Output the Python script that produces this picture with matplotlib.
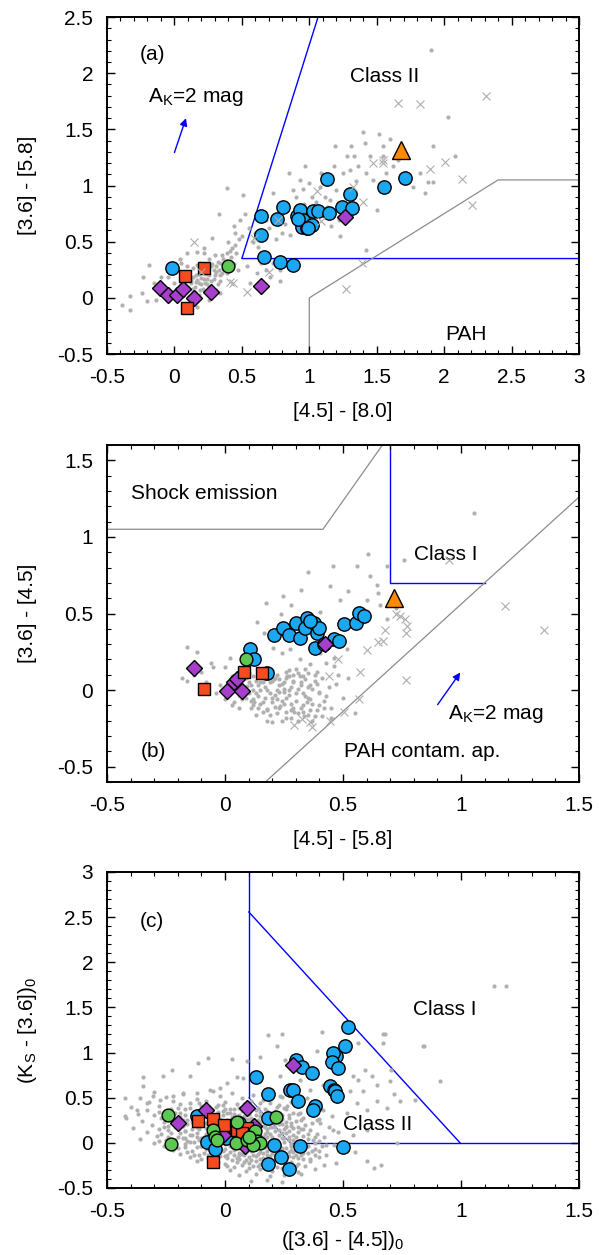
import matplotlib
matplotlib.use("Agg")
import matplotlib.pyplot as plt
from matplotlib.ticker import MultipleLocator, FuncFormatter

plt.rcParams['font.family'] = ['Liberation Sans', 'DejaVu Sans']
plt.rcParams['mathtext.fontset'] = 'custom'
plt.rcParams['mathtext.rm'] = 'Liberation Sans'
plt.rcParams['mathtext.it'] = 'Liberation Sans:italic'
plt.rcParams['axes.unicode_minus'] = False

# ---------------- Panel (a) data: [4.5]-[8.0] vs [3.6]-[5.8] ----------------
a_blue_x = [-0.02, 0.644, 0.644, 0.763, 0.805, 0.662, 0.785, 0.877, 0.906, 0.931, 0.956, 0.944, 0.981,
            1.018, 1.03, 1.067, 1.129, 1.148, 1.24, 1.302, 1.314, 1.551, 1.712, 0.92, 0.99]
a_blue_y = [0.264, 0.73, 0.561, 0.703, 0.813, 0.368, 0.323, 0.294, 0.733, 0.784, 0.695, 0.635, 0.62,
            0.65, 0.777, 0.769, 1.06, 0.754, 0.813, 0.926, 0.799, 0.986, 1.066, 0.70, 0.62]
a_purple_x = [1.265, 0.642, -0.107, -0.045, 0.022, 0.066, 0.148, 0.271]
a_purple_y = [0.718, 0.11, 0.086, 0.027, 0.027, 0.077, -0.003, 0.05]
a_red_x = [0.079, 0.222, 0.091]
a_red_y = [0.196, 0.264, -0.086]
a_green_x = [0.397]
a_green_y = [0.285]
a_orange_x = [1.68]
a_orange_y = [1.32]
a_cross = [(0.148, 0.501), (0.2, 0.234), (0.41, 0.145), (0.437, 0.131), (0.54, 0.056), (0.59, 0.53),
           (0.70, 0.234), (0.77, 0.694), (1.055, 0.955), (1.09, 0.68), (1.326, 0.991), (1.40, 0.858),
           (1.39, 0.309), (1.272, 0.077), (1.474, 1.2), (1.55, 1.2), (1.55, 1.23), (1.655, 1.733),
           (1.82, 1.727), (1.895, 1.146), (2.01, 1.214), (2.13, 1.06), (2.21, 0.828), (2.31, 1.793)]
a_dots = [(-0.39, -0.06), (-0.33, -0.11), (-0.33, 0.02), (-0.24, 0.04), (-0.23, 0.19), (-0.19, 0.29),
          (-0.15, 0.13), (-0.14, -0.02), (-0.2, -0.03), (-0.1, 0.19), (-0.05, 0.19), (0.04, 0.35),
          (0.05, 0.31), (0.09, 0.28), (0.12, 0.13), (0.14, 0.19), (0.17, 0.16), (0.19, 0.31), (0.22, 0.4),
          (0.24, 0.17), (0.26, 0.2), (0.29, 0.25), (0.31, 0.28), (0.34, 0.31), (0.36, 0.35), (0.39, 0.4),
          (0.43, 0.44), (0.46, 0.4), (0.48, 0.52), (0.45, 0.58), (0.44, 0.64), (0.49, 0.69), (0.52, 0.75),
          (0.51, 0.92), (0.39, 0.98), (0.33, 0.75), (0.28, 0.53), (0.22, 0.44), (0.17, 0.41), (0.09, 0.4),
          (0.07, 0.07), (0.13, 0.04), (0.19, 0.07), (0.23, 0.13), (0.02, -0.02), (-0.05, -0.03), (0.0, 0.13),
          (0.17, -0.08), (0.26, -0.02), (0.31, 0.07), (0.34, 0.04), (0.39, 0.22), (0.43, 0.28), (0.34, 0.15),
          (0.54, 0.28), (0.56, 0.13), (0.61, 0.22), (0.71, 0.19), (0.78, 0.15), (0.78, 0.25), (0.73, 0.31),
          (0.68, 0.25), (0.64, 0.31), (0.6, 0.58), (0.68, 0.69), (0.73, 0.93), (0.8, 0.58), (0.85, 1.11),
          (0.88, 0.96), (0.93, 1.05), (0.96, 0.84), (0.97, 1.17), (1.0, 1.02), (1.02, 0.9), (1.08, 0.99),
          (1.09, 1.11), (1.12, 0.9), (1.13, 0.81), (1.15, 0.87), (1.18, 1.17), (1.19, 1.35), (1.2, 0.96),
          (1.22, 0.69), (1.23, 0.55), (1.25, 1.11), (1.28, 1.26), (1.3, 1.14), (1.31, 1.35), (1.33, 1.26),
          (1.35, 1.04), (1.36, 1.17), (1.4, 1.48), (1.41, 1.38), (1.42, 1.11), (1.42, 0.43), (1.45, 1.26),
          (1.47, 1.05), (1.5, 0.78), (1.52, 1.46), (1.55, 1.26), (1.57, 1.11), (1.6, 1.41), (1.62, 1.17),
          (1.66, 1.23), (1.72, 1.11), (1.77, 0.99), (1.82, 1.11), (1.86, 0.93), (1.88, 1.03), (1.92, 1.03),
          (2.03, 1.61), (1.9, 2.21), (2.08, 1.26), (1.92, 1.35), (1.55, 1.35),
          (0.1, 0.1), (0.12, 0.16), (0.15, 0.1), (0.16, 0.2), (0.18, 0.13), (0.2, 0.18), (0.21, 0.08),
          (0.22, 0.22), (0.24, 0.12), (0.25, 0.25), (0.27, 0.15), (0.28, 0.3), (0.3, 0.2), (0.32, 0.12),
          (0.33, 0.25), (0.35, 0.22), (0.37, 0.28), (0.14, 0.27), (0.11, 0.22), (0.08, 0.15), (0.05, 0.12),
          (0.03, 0.08), (0.19, 0.24), (0.23, 0.3), (0.26, 0.35), (0.3, 0.38), (0.4, 0.5), (0.42, 0.36),
          (0.44, 0.3), (0.47, 0.25),
          (0.06, 0.18), (0.09, 0.22), (0.13, 0.08), (0.16, 0.14), (0.18, 0.21), (0.2, 0.12), (0.22, 0.17),
          (0.24, 0.21), (0.26, 0.1), (0.27, 0.28), (0.29, 0.17), (0.31, 0.23), (0.32, 0.32), (0.34, 0.2),
          (0.36, 0.26), (0.38, 0.33), (0.15, 0.05), (0.18, 0.03), (0.11, 0.02), (0.28, 0.06), (0.25, 0.04),
          (0.21, 0.26), (0.17, 0.29), (0.35, 0.38), (0.41, 0.42), (0.45, 0.47), (0.5, 0.55), (0.55, 0.62),
          (0.58, 0.5), (0.62, 0.45), (0.66, 0.52), (0.7, 0.62), (0.75, 0.52), (0.82, 0.66), (0.86, 0.56),
          (0.9, 0.9), (0.95, 0.97), (1.05, 0.85), (1.1, 1.02), (1.16, 0.64)]

# ---------------- Panel (b) data: [4.5]-[5.8] vs [3.6]-[4.5] ----------------
b_blue_x = [0.209, 0.247, 0.273, 0.299, 0.317, 0.348, 0.340, 0.376, 0.390, 0.397, 0.383, 0.460, 0.482,
            0.503, 0.556, 0.566, 0.588, 0.107, 0.121, 0.178, 0.36, 0.42]
b_blue_y = [0.357, 0.407, 0.357, 0.439, 0.342, 0.472, 0.407, 0.439, 0.374, 0.407, 0.277, 0.331, 0.320,
            0.429, 0.439, 0.504, 0.483, 0.266, 0.206, 0.110, 0.45, 0.30]
b_purple_x = [0.425, -0.13, 0.008, 0.037, 0.072, 0.05]
b_purple_y = [0.303, 0.147, -0.004, 0.05, -0.004, 0.07]
b_red_x = [-0.09, 0.082, 0.157]
b_red_y = [0.01, 0.115, 0.110]
b_green_x = [0.089]
b_green_y = [0.206]
b_orange_x = [0.717]
b_orange_y = [0.60]
b_cross = [(0.948, 0.85), (0.726, 0.494), (0.74, 0.483), (0.764, 0.461), (0.771, 0.418), (0.768, 0.37),
           (0.68, 0.39), (0.65, 0.314), (0.67, 0.32), (0.60, 0.26), (0.48, 0.206), (0.44, 0.093),
           (0.57, 0.121), (0.768, 0.067), (0.566, -0.058), (0.506, -0.145), (1.185, 0.548), (1.35, 0.392),
           (0.291, -0.227), (0.326, -0.188), (0.362, -0.21), (0.37, -0.242), (0.446, -0.2)]
b_dots = [(-0.16, 0.28), (0.02, 0.21), (0.136, 0.444), (0.174, 0.569), (0.247, 0.613), (0.35, 0.77),
          (0.456, 0.807), (0.56, 0.807), (0.605, 0.887), (0.686, 0.807), (0.76, 0.85), (1.054, 1.154),
          (0.613, 0.742), (0.643, 0.688), (0.65, 0.634), (0.52, 0.645), (0.486, 0.591), (0.446, 0.677),
          (0.404, 0.509), (0.322, 0.656), (0.281, 0.558), (0.239, 0.494), (0.164, 0.374), (0.202, 0.277),
          (0.242, 0.245), (0.277, 0.266), (0.319, 0.201), (0.362, 0.169), (0.404, 0.245), (0.46, 0.212),
          (0.517, 0.266), (0.588, 0.526), (0.602, 0.591), (0.658, 0.558), (0.686, 0.461), (0.726, 0.537),
          (0.319, 0.093), (0.397, -0.015), (0.347, -0.08), (0.39, 0.115), (0.263, 0.093), (0.206, 0.071),
          (0.15, 0.05), (0.093, 0.028), (0.065, -0.037), (0.121, -0.08), (0.178, -0.123), (0.234, -0.102),
          (0.291, -0.145), (0.333, -0.167), (-0.182, 0.082), (-0.13, 0.1), (-0.05, 0.15),
          (0.02, -0.02), (0.05, 0.05), (0.07, -0.06), (0.09, 0.08), (0.1, -0.02), (0.11, 0.03), (0.12, -0.1),
          (0.13, 0.06), (0.14, -0.04), (0.15, 0.1), (0.16, -0.08), (0.17, 0.02), (0.18, -0.13), (0.19, 0.05),
          (0.2, -0.05), (0.21, 0.08), (0.22, -0.15), (0.23, -0.01), (0.24, 0.04), (0.25, -0.09), (0.26, 0.12),
          (0.27, -0.03), (0.28, -0.18), (0.29, 0.06), (0.3, -0.07), (0.31, 0.01), (0.32, -0.12), (0.33, 0.09),
          (0.34, -0.04), (0.35, -0.16), (0.36, 0.03), (0.37, -0.09), (0.38, 0.06), (0.39, -0.13), (0.4, -0.02),
          (0.06, -0.12), (0.08, 0.12), (0.03, 0.09), (0.0, -0.06), (-0.02, 0.03), (0.13, -0.16), (0.17, 0.14),
          (0.21, -0.11), (0.25, 0.01), (0.29, -0.12), (0.33, -0.02), (0.19, -0.02), (0.15, 0.0), (0.11, -0.07),
          (0.23, 0.07), (0.27, 0.09), (0.31, -0.15), (0.35, 0.11), (0.2, 0.13), (0.24, -0.2), (0.18, -0.2),
          (0.14, -0.12), (0.1, 0.11), (0.26, -0.14), (0.3, 0.14), (0.42, -0.07), (0.44, 0.02), (0.41, -0.17),
          (0.37, -0.2), (0.34, 0.14), (0.12, 0.0), (0.16, 0.05), (0.22, 0.0), (0.28, 0.02), (0.32, 0.05),
          (0.05, -0.01), (0.08, -0.04), (0.2, -0.08), (0.26, -0.05), (0.36, -0.06),
          (0.45, -0.12), (0.48, 0.1), (0.5, -0.05), (0.46, 0.16), (0.52, 0.08), (0.55, -0.15), (0.43, 0.18),
          (-0.16, 0.06), (-0.1, 0.12), (-0.06, 0.18), (-0.04, -0.02), (-0.08, 0.05), (0.0, 0.15),
          (-0.12, 0.25), (0.03, -0.1),
          (0.03, 0.0), (0.04, -0.08), (0.06, 0.07), (0.07, 0.02), (0.09, -0.05), (0.1, 0.05), (0.11, -0.12),
          (0.12, 0.09), (0.13, -0.02), (0.14, 0.03), (0.15, -0.09), (0.16, 0.12), (0.17, -0.05), (0.18, 0.0),
          (0.19, -0.16), (0.2, 0.06), (0.21, -0.03), (0.22, 0.1), (0.23, -0.12), (0.24, -0.07), (0.25, 0.05),
          (0.26, -0.18), (0.27, 0.0), (0.28, -0.09), (0.29, 0.1), (0.3, -0.02), (0.31, -0.2), (0.32, 0.03),
          (0.33, -0.1), (0.34, 0.07), (0.35, -0.05), (0.36, -0.13), (0.37, 0.01), (0.38, -0.17), (0.39, 0.04),
          (0.4, -0.1), (0.41, 0.08), (0.43, -0.04), (0.45, -0.18), (0.47, 0.04), (0.16, -0.14), (0.2, -0.21),
          (0.27, 0.13), (0.23, 0.03), (0.19, 0.09), (0.14, 0.14), (0.09, 0.0), (0.12, -0.06), (0.06, -0.03),
          (0.25, -0.01), (0.29, 0.05), (0.33, -0.14), (0.38, 0.1), (0.22, -0.06), (0.17, 0.07), (0.28, -0.13),
          (0.31, 0.11), (0.35, 0.02), (0.42, -0.12), (0.26, 0.08)]

# ---------------- Panel (c) data: ([3.6]-[4.5])0 vs (Ks-[3.6])0 ----------------
c_blue_x = [0.52, 0.509, 0.47, 0.459, 0.452, 0.48, 0.301, 0.325, 0.367, 0.133, 0.184, 0.275, 0.29, 0.309,
            0.382, 0.372, 0.445, 0.46, 0.466, 0.476, -0.12, -0.078, -0.042, 0.035, 0.004, 0.208, 0.239,
            0.184, 0.272, 0.318, 0.184, 0.501, 0.06, 0.1]
c_blue_y = [1.285, 1.07, 0.96, 0.996, 0.90, 0.83, 0.922, 0.841, 0.774, 0.733, 0.541, 0.589, 0.589, 0.459,
            0.404, 0.367, 0.63, 0.59, 0.57, 0.522, 0.293, 0.004, -0.07, 0.2, 0.052, -0.026, -0.152,
            -0.233, -0.289, -0.04, 0.274, -0.048, 0.22, 0.05]
c_purple_x = [0.29, 0.092, -0.08, -0.2, 0.123, -0.007, 0.085]
c_purple_y = [0.867, 0.385, 0.367, 0.219, 0.181, 0.089, -0.04]
c_red_x = [-0.113, -0.052, -0.004, 0.049, 0.092, 0.071, -0.052]
c_red_y = [0.237, 0.263, 0.2, 0.144, 0.163, 0.107, -0.207]
c_green_x = [-0.24, -0.229, 0.052, 0.216, -0.052, -0.042, -0.035, 0.047, 0.092, 0.113, 0.127, 0.134,
             0.148, 0.12, 0.1]
c_green_y = [0.304, -0.015, 0.23, 0.285, 0.144, 0.07, 0.033, -0.004, 0.033, 0.07, 0.126, 0.015,
             -0.004, -0.022, 0.06]
c_dots = [(-0.30, 0.56), (-0.18, 0.54), (-0.05, 0.57), (0.03, 0.55), (0.12, 0.53), (0.20, 0.56),
          (-0.36, 0.50), (-0.25, 0.51), (-0.12, 0.49), (-0.02, 0.52), (0.07, 0.50), (0.16, 0.48), (0.24, 0.51),
          (-0.32, 0.45), (-0.22, 0.46), (-0.15, 0.44), (-0.08, 0.46), (0.00, 0.45), (0.05, 0.43), (0.11, 0.46),
          (0.19, 0.44), (0.28, 0.45), (-0.40, 0.40), (-0.28, 0.41), (-0.20, 0.39), (-0.10, 0.41), (-0.04, 0.40),
          (0.02, 0.38), (0.08, 0.41), (0.14, 0.39), (0.22, 0.40), (0.30, 0.42), (-0.33, 0.36), (-0.24, 0.35),
          (-0.17, 0.37), (-0.12, 0.34), (-0.06, 0.36), (-0.01, 0.35), (0.04, 0.37), (0.09, 0.34), (0.13, 0.36),
          (0.18, 0.35), (0.26, 0.37), (0.35, 0.34), (-0.37, 0.32), (-0.30, 0.31), (-0.21, 0.33), (-0.14, 0.31),
          (-0.09, 0.32), (-0.03, 0.30), (0.01, 0.33), (0.06, 0.31), (0.10, 0.32), (0.15, 0.30), (0.20, 0.33),
          (0.24, 0.31), (0.31, 0.32), (-0.42, 0.28), (-0.27, 0.27), (-0.19, 0.29), (-0.13, 0.27), (-0.07, 0.28),
          (-0.02, 0.26), (0.03, 0.29), (0.07, 0.27), (0.11, 0.28), (0.16, 0.26), (0.21, 0.29), (0.27, 0.27),
          (0.33, 0.28), (0.40, 0.26), (-0.35, 0.24), (-0.26, 0.23), (-0.18, 0.25), (-0.11, 0.23), (-0.05, 0.24),
          (0.00, 0.22), (0.04, 0.25), (0.08, 0.23), (0.12, 0.24), (0.17, 0.22), (0.22, 0.25), (0.26, 0.23),
          (0.30, 0.24), (0.37, 0.22), (-0.31, 0.20), (-0.24, 0.19), (-0.16, 0.21), (-0.10, 0.19), (-0.04, 0.20),
          (0.02, 0.18), (0.06, 0.21), (0.10, 0.19), (0.14, 0.20), (0.19, 0.18), (0.23, 0.21), (0.28, 0.19),
          (0.34, 0.20), (0.44, 0.18), (-0.39, 0.16), (-0.28, 0.15), (-0.21, 0.17), (-0.14, 0.15), (-0.08, 0.16),
          (-0.02, 0.14), (0.03, 0.17), (0.07, 0.15), (0.11, 0.16), (0.15, 0.14), (0.20, 0.17), (0.25, 0.15),
          (0.29, 0.16), (0.36, 0.14), (-0.33, 0.12), (-0.23, 0.11), (-0.17, 0.13), (-0.12, 0.11), (-0.06, 0.12),
          (-0.01, 0.10), (0.04, 0.13), (0.08, 0.11), (0.13, 0.12), (0.17, 0.10), (0.21, 0.13), (0.26, 0.11),
          (0.31, 0.12), (0.39, 0.10), (0.48, 0.12), (-0.29, 0.08), (-0.20, 0.07), (-0.15, 0.09), (-0.09, 0.07),
          (-0.03, 0.08), (0.01, 0.06), (0.05, 0.09), (0.09, 0.07), (0.14, 0.08), (0.18, 0.06), (0.23, 0.09),
          (0.27, 0.07), (0.33, 0.08), (0.42, 0.06), (-0.36, 0.04), (-0.25, 0.03), (-0.18, 0.05), (-0.11, 0.03),
          (-0.05, 0.04), (0.00, 0.02), (0.06, 0.05), (0.10, 0.03), (0.15, 0.04), (0.19, 0.02), (0.24, 0.05),
          (0.29, 0.03), (0.35, 0.04), (-0.30, 0.00), (-0.21, -0.01), (-0.13, 0.01), (-0.07, -0.01),
          (-0.02, 0.00), (0.03, -0.02), (0.08, 0.01), (0.12, -0.01), (0.16, 0.00), (0.21, -0.02), (0.25, 0.01),
          (0.31, -0.01), (0.38, 0.00), (0.46, -0.02), (-0.26, -0.04), (-0.17, -0.05), (-0.10, -0.03),
          (-0.04, -0.05), (0.02, -0.04), (0.06, -0.06), (0.11, -0.03), (0.15, -0.05), (0.20, -0.04),
          (0.24, -0.06), (0.28, -0.03), (0.34, -0.05), (0.41, -0.04), (-0.22, -0.08), (-0.14, -0.09),
          (-0.08, -0.07), (-0.01, -0.09), (0.04, -0.08), (0.09, -0.10), (0.13, -0.07), (0.18, -0.09),
          (0.22, -0.08), (0.27, -0.10), (0.32, -0.07), (0.37, -0.09), (0.50, -0.08), (-0.19, -0.12),
          (-0.11, -0.13), (-0.05, -0.11), (0.01, -0.13), (0.07, -0.12), (0.12, -0.14), (0.16, -0.11),
          (0.21, -0.13), (0.25, -0.12), (0.30, -0.14), (0.35, -0.11), (0.43, -0.13), (-0.15, -0.16),
          (-0.07, -0.17), (0.00, -0.15), (0.05, -0.17), (0.10, -0.16), (0.15, -0.18), (0.19, -0.15),
          (0.24, -0.17), (0.29, -0.16), (0.33, -0.18), (0.40, -0.16), (-0.12, -0.20), (-0.03, -0.21),
          (0.03, -0.19), (0.08, -0.21), (0.13, -0.20), (0.18, -0.22), (0.23, -0.19), (0.28, -0.21),
          (0.36, -0.20), (0.47, -0.22), (0.60, -0.20), (-0.06, -0.25), (0.01, -0.26), (0.07, -0.24),
          (0.12, -0.26), (0.17, -0.25), (0.22, -0.27), (0.27, -0.24), (0.34, -0.26), (0.42, -0.25),
          (0.02, -0.30), (0.09, -0.31), (0.15, -0.29), (0.20, -0.31), (0.26, -0.30), (0.31, -0.32),
          (0.38, -0.29), (0.63, -0.28), (0.06, -0.36), (0.13, -0.35), (0.19, -0.37), (0.25, -0.36),
          (0.32, -0.35), (0.11, -0.42), (0.18, -0.41), (0.24, -0.43),
          (-0.08, 0.22), (-0.03, 0.18), (0.02, 0.10), (0.05, 0.02), (0.09, 0.15), (0.13, 0.05), (0.16, 0.19),
          (0.18, 0.12), (0.12, -0.05), (0.07, -0.02), (-0.05, 0.14), (-0.10, 0.05), (0.00, -0.07),
          (0.19, -0.06), (0.22, 0.03), (0.10, 0.26), (0.04, 0.32), (-0.12, 0.18), (0.14, -0.12), (0.26, 0.17),
          (-0.16, 0.02), (0.21, 0.22), (0.06, -0.14), (-0.07, 0.31), (0.28, -0.08), (0.17, 0.30), (0.09, -0.19),
          (-0.01, 0.42), (0.32, 0.15), (0.11, 0.09),
          (-0.424, 0.496), (-0.424, 0.293), (-0.346, 0.73), (-0.346, 0.626), (-0.304, 0.515), (-0.261, 0.737),
          (-0.226, 0.811), (-0.148, 0.737), (-0.113, 0.885), (-0.071, 0.941), (0.028, 0.93), (0.092, 0.904),
          (0.148, 0.952), (0.184, 1.189), (0.24, 1.207), (0.41, 1.23), (0.388, 1.015), (0.219, 1.07),
          (0.254, 0.922), (0.078, 0.719), (0.049, 0.73), (0.007, 0.663), (-0.021, 0.607), (-0.064, 0.589),
          (-0.12, 0.552), (-0.177, 0.552), (-0.219, 0.515), (-0.275, 0.478), (-0.332, 0.441), (-0.374, 0.367),
          (0.233, 0.737), (0.318, 0.7), (0.36, 0.589), (0.417, 0.644), (0.233, 0.515), (0.261, 0.404),
          (0.346, 0.496), (0.403, 0.441), (0.318, 0.33), (0.388, 0.256),
          (0.678, 1.2), (0.671, 1.107), (0.565, 1.107), (0.843, 1.07), (0.702, 0.811), (0.593, 0.811),
          (0.544, 0.737), (0.565, 0.7), (0.621, 0.737), (0.643, 0.644), (0.583, 0.57), (0.53, 0.57),
          (0.699, 0.681), (0.717, 0.544), (0.805, 0.478), (0.742, 0.459), (0.911, 0.681), (0.646, 0.459),
          (0.685, 0.385), (0.6, 0.367), (0.558, 0.441), (0.516, 0.33), (0.452, 0.293), (0.417, 0.367),
          (0.403, 0.219), (0.459, 0.144), (0.544, 0.089), (0.6, 0.144), (0.727, -0.004), (0.374, 0.033),
          (1.141, 1.737), (1.189, 1.737), (0.84, 1.07), (0.668, 1.2), (0.66, -0.24), (0.55, -0.1)]
c_dots_core = [(-0.19, 0.43), (-0.11, 0.44), (-0.03, 0.42), (0.08, 0.43), (0.15, 0.44), (0.23, 0.42),
               (-0.23, 0.38), (-0.15, 0.39), (-0.07, 0.37), (0.0, 0.38), (0.06, 0.39), (0.11, 0.37), (0.17, 0.38),
               (0.25, 0.39), (-0.28, 0.34), (-0.19, 0.33), (-0.09, 0.35), (-0.03, 0.34), (0.02, 0.33), (0.07, 0.35),
               (0.15, 0.34), (0.21, 0.35), (0.29, 0.33), (-0.25, 0.30), (-0.17, 0.31), (-0.11, 0.29), (-0.05, 0.30),
               (-0.01, 0.31), (0.04, 0.29), (0.08, 0.30), (0.13, 0.31), (0.18, 0.29), (0.22, 0.30), (0.27, 0.31),
               (-0.22, 0.26), (-0.16, 0.25), (-0.10, 0.27), (-0.04, 0.26), (0.01, 0.25), (0.05, 0.27), (0.09, 0.26),
               (0.14, 0.25), (0.19, 0.27), (0.24, 0.26), (0.32, 0.25), (-0.20, 0.22), (-0.14, 0.23), (-0.07, 0.21),
               (-0.02, 0.22), (0.02, 0.23), (0.06, 0.22), (0.10, 0.21), (0.15, 0.23), (0.19, 0.22), (0.24, 0.21),
               (0.28, 0.22), (-0.26, 0.18), (-0.18, 0.19), (-0.12, 0.17), (-0.06, 0.18), (0.0, 0.19), (0.04, 0.17),
               (0.08, 0.18), (0.12, 0.19), (0.17, 0.17), (0.21, 0.18), (0.26, 0.19), (0.31, 0.17), (-0.24, 0.14),
               (-0.17, 0.13), (-0.11, 0.15), (-0.04, 0.14), (0.01, 0.13), (0.05, 0.15), (0.09, 0.14), (0.13, 0.13),
               (0.18, 0.15), (0.23, 0.14), (0.27, 0.13), (0.33, 0.15), (-0.27, 0.10), (-0.19, 0.11), (-0.14, 0.09),
               (-0.08, 0.10), (-0.03, 0.11), (0.02, 0.09), (0.06, 0.10), (0.11, 0.11), (0.15, 0.09), (0.19, 0.10),
               (0.24, 0.11), (0.29, 0.09), (0.35, 0.10), (-0.24, 0.06), (-0.17, 0.05), (-0.12, 0.07), (-0.06, 0.06),
               (-0.01, 0.05), (0.03, 0.07), (0.07, 0.06), (0.12, 0.05), (0.16, 0.07), (0.2, 0.06), (0.25, 0.05),
               (0.3, 0.07), (0.38, 0.06), (-0.28, 0.02), (-0.21, 0.03), (-0.15, 0.01), (-0.08, 0.02), (-0.03, 0.03),
               (0.02, 0.01), (0.08, 0.02), (0.13, 0.03), (0.17, 0.01), (0.22, 0.02), (0.27, 0.03), (0.32, 0.01),
               (0.4, 0.02), (-0.25, -0.02), (-0.17, -0.01), (-0.1, -0.03), (-0.05, -0.02), (0.0, -0.01),
               (0.05, -0.03), (0.1, -0.02), (0.14, -0.01), (0.18, -0.03), (0.23, -0.02), (0.28, -0.01),
               (0.35, -0.03), (0.43, -0.02), (-0.2, -0.06), (-0.12, -0.05), (-0.06, -0.07), (-0.02, -0.06),
               (0.03, -0.05), (0.08, -0.07), (0.12, -0.06), (0.17, -0.05), (0.22, -0.07), (0.26, -0.06),
               (0.3, -0.05), (0.38, -0.07), (-0.16, -0.10), (-0.09, -0.11), (-0.03, -0.09), (0.02, -0.10),
               (0.06, -0.11), (0.11, -0.09), (0.15, -0.10), (0.2, -0.11), (0.24, -0.09), (0.29, -0.10),
               (0.33, -0.11), (0.4, -0.09), (-0.13, -0.14), (-0.07, -0.13), (-0.02, -0.15), (0.04, -0.14),
               (0.08, -0.13), (0.13, -0.15), (0.18, -0.14), (0.22, -0.13), (0.27, -0.15), (0.32, -0.14),
               (0.38, -0.13), (-0.1, -0.18), (-0.04, -0.19), (0.01, -0.17), (0.06, -0.18), (0.11, -0.19),
               (0.16, -0.17), (0.21, -0.18), (0.26, -0.19), (0.31, -0.17), (0.36, -0.18), (-0.06, -0.22),
               (0.0, -0.23), (0.05, -0.21), (0.1, -0.22), (0.15, -0.23), (0.2, -0.21), (0.25, -0.22),
               (0.31, -0.23), (0.04, -0.27), (0.1, -0.28), (0.14, -0.26), (0.19, -0.27), (0.24, -0.28),
               (0.3, -0.26)]

# ---------------- styles ----------------
C_BLUE = '#1ba8f2'
C_PURPLE = '#a53fcc'
C_RED = '#f44b20'
C_GREEN = '#5cc851'
C_ORANGE = '#ff8a00'
C_DOT = '#b0b0b0'
C_CROSS = '#adadad'
C_LINE = 'blue'
C_GLINE = '#8c8c8c'
FS = 15

fig = plt.figure(figsize=(5.99, 12.55), dpi=100)
ax_a = fig.add_axes([0.1786, 0.7179, 0.788, 0.2685])
ax_b = fig.add_axes([0.1786, 0.3769, 0.788, 0.2685])
ax_c = fig.add_axes([0.1786, 0.0534, 0.788, 0.2518])

fmt = FuncFormatter(lambda v, p: '%g' % (round(v, 3) + 0.0))


def style(ax, xlim, ylim, xlabel, ylabel, xlab_off):
    ax.set_xlim(*xlim)
    ax.set_ylim(*ylim)
    ax.xaxis.set_major_locator(MultipleLocator(0.5))
    ax.yaxis.set_major_locator(MultipleLocator(0.5))
    ax.xaxis.set_minor_locator(MultipleLocator(0.1))
    ax.yaxis.set_minor_locator(MultipleLocator(0.1))
    ax.xaxis.set_major_formatter(fmt)
    ax.yaxis.set_major_formatter(fmt)
    ax.tick_params(which='both', direction='in', top=True, right=True, labelsize=FS, pad=10)
    ax.tick_params(which='major', length=6, width=1.0)
    ax.tick_params(which='minor', length=3, width=0.8)
    for s in ax.spines.values():
        s.set_linewidth(1.4)
    ax.set_xlabel(xlabel, fontsize=FS)
    ax.set_ylabel(ylabel, fontsize=FS)
    ax.xaxis.label.set_va('center')
    ax.yaxis.label.set_va('center')
    ax.xaxis.set_label_coords(0.5, xlab_off)
    ax.yaxis.set_label_coords(-0.169, 0.5)


def markers(ax, bx, by, px, py, rx, ry, gx, gy, ox=None, oy=None, cross=None, dots=None):
    if dots:
        ax.plot([p[0] for p in dots], [p[1] for p in dots], 'o', ms=3.0, color=C_DOT, mec='none', zorder=2)
    ax.plot(bx, by, 'o', ms=9.6, mfc=C_BLUE, mec='black', mew=1.0, zorder=3)
    ax.plot(px, py, 'D', ms=8.2, mfc=C_PURPLE, mec='black', mew=1.0, zorder=4)
    ax.plot(rx, ry, 's', ms=9.0, mfc=C_RED, mec='black', mew=1.0, zorder=5)
    ax.plot(gx, gy, 'o', ms=9.2, mfc=C_GREEN, mec='black', mew=1.0, zorder=6)
    if ox is not None:
        ax.plot(ox, oy, '^', ms=13.5, mfc=C_ORANGE, mec='black', mew=1.0, zorder=7)
    if cross:
        ax.plot([p[0] for p in cross], [p[1] for p in cross], 'x', ms=6, mew=0.8, color=C_CROSS, zorder=8)


# ---------------- (a) ----------------
ax = ax_a
style(ax, (-0.5, 3), (-0.5, 2.5), '[4.5] - [8.0]', '[3.6] - [5.8]', -0.171)
ax.plot([1.065, 0.5, 3.0], [2.5, 0.35, 0.35], color=C_LINE, lw=1.0, zorder=1)
ax.plot([1.0, 1.0, 2.4, 3.0], [-0.5, 0.0, 1.05, 1.05], color=C_GLINE, lw=0.9, zorder=1)
markers(ax, a_blue_x, a_blue_y, a_purple_x, a_purple_y, a_red_x, a_red_y, a_green_x, a_green_y,
        a_orange_x, a_orange_y, a_cross, a_dots)
ax.annotate('', xy=(0.086, 1.60), xytext=(0.0, 1.294),
            arrowprops=dict(arrowstyle='-|>', color='blue', lw=1.0, mutation_scale=11, shrinkA=0, shrinkB=0))
ax.text(-0.26, 2.12, '(a)', fontsize=FS, ha='left', va='baseline')
ax.text(-0.198, 1.74, r'A$_\mathrm{K}$=2 mag', fontsize=FS, ha='left', va='baseline')
ax.text(1.30, 1.926, 'Class II', fontsize=FS, ha='left', va='baseline')
ax.text(2.006, -0.374, 'PAH', fontsize=FS, ha='left', va='baseline')

# ---------------- (b) ----------------
ax = ax_b
style(ax, (-0.5, 1.5), (-0.6, 1.6), '[4.5] - [5.8]', '[3.6] - [4.5]', -0.171)
ax.plot([-0.5, 0.415, 0.667], [1.05, 1.05, 1.6], color=C_GLINE, lw=0.9, zorder=1)
ax.plot([0.7, 0.7, 1.1], [1.6, 0.7, 0.7], color=C_LINE, lw=1.0, zorder=1)
ax.plot([0.171, 1.5], [-0.6, 1.26], color=C_GLINE, lw=0.9, zorder=1)
markers(ax, b_blue_x, b_blue_y, b_purple_x, b_purple_y, b_red_x, b_red_y, b_green_x, b_green_y,
        b_orange_x, b_orange_y, b_cross, b_dots)
ax.annotate('', xy=(0.997, 0.115), xytext=(0.901, -0.095),
            arrowprops=dict(arrowstyle='-|>', color='blue', lw=1.0, mutation_scale=11, shrinkA=0, shrinkB=0))
ax.text(-0.398, 1.245, 'Shock emission', fontsize=FS, ha='left', va='baseline')
ax.text(0.80, 0.851, 'Class I', fontsize=FS, ha='left', va='baseline')
ax.text(0.944, -0.19, r'A$_\mathrm{K}$=2 mag', fontsize=FS, ha='left', va='baseline')
ax.text(-0.359, -0.437, '(b)', fontsize=FS, ha='left', va='baseline')
ax.text(0.503, -0.437, 'PAH contam. ap.', fontsize=FS, ha='left', va='baseline')

# ---------------- (c) ----------------
ax = ax_c
style(ax, (-0.5, 1.5), (-0.5, 3.0), r'([3.6] - [4.5])${}_\mathrm{0}$',
      r'(K$_\mathrm{S}$ - [3.6])${}_\mathrm{0}$', -0.165)
ax.plot([0.101, 0.101], [3.0, 0.5], color=C_LINE, lw=1.0, zorder=1)
ax.plot([0.101, 0.276], [0.5, 0.0], color=C_LINE, lw=0.6, zorder=1)
ax.plot([0.276, 1.5], [0.0, 0.0], color=C_LINE, lw=1.0, zorder=1)
ax.plot([0.101, 0.996], [2.557, 0.0], color=C_LINE, lw=1.0, zorder=1)
markers(ax, c_blue_x, c_blue_y, c_purple_x, c_purple_y, c_red_x, c_red_y, c_green_x, c_green_y,
        dots=c_dots + c_dots_core)
ax.text(-0.36, 2.396, '(c)', fontsize=FS, ha='left', va='baseline')
ax.text(0.798, 1.415, 'Class I', fontsize=FS, ha='left', va='baseline')
ax.text(0.501, 0.144, 'Class II', fontsize=FS, ha='left', va='baseline')

fig.savefig('out.png', dpi=100)
